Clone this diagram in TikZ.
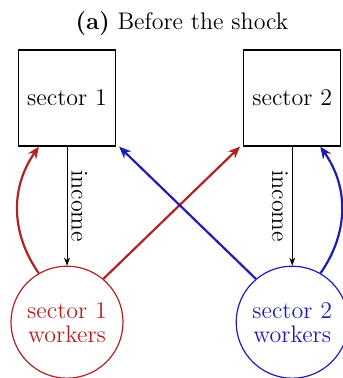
\documentclass[tikz,border=0pt]{standalone}
\usepackage{tikz}
\usetikzlibrary{arrows.meta}
\usetikzlibrary{positioning}

\definecolor{workred}{RGB}{178,34,34}
\definecolor{workblue}{RGB}{30,30,178}

\begin{document}
\begin{tikzpicture}[node distance=59.5pt and 63.5pt,
		sectorbox/.style={draw,semithick,rectangle,minimum width=48.5pt,minimum height=48pt,inner sep=0pt},
		workers/.style={draw,semithick,circle,minimum size=56pt,inner sep=0pt,align=center,font=\large},
		flow/.style={->,>={Stealth[length=6pt,width=5pt]},line width=1.1pt},
		incomeflow/.style={->,>={Stealth[length=4pt,width=3pt]},thin}]
		\useasboundingbox (0,0) rectangle (171pt,189pt);

		\node [sectorbox,font=\large] (s1) at (33.5pt,140pt) {sector 1};
		\node [sectorbox,font=\large,right=of s1] (s2) {sector 2};
		\node [workers,workred,below=of s1] (w1) {sector 1\\[-2pt]workers};
		\node [workers,workblue,below=of s2] (w2) {sector 2\\[-2pt]workers};

		\node [font=\large] (title) at (91pt,177pt) {\textbf{(a)} Before the shock};

		\draw [incomeflow] (s1) -- node [right,rotate=-90,anchor=south,font=\large,inner sep=2pt] {income} (w1);
		\draw [incomeflow] (s2) -- node [left,rotate=-90,anchor=north,font=\large,inner sep=2pt] {income} (w2);

		\draw [flow,workred] (w1.120) to [bend left=35] (s1.-120);
		\draw [flow,workred] (w1.50) -- ([xshift=-1.5pt]s2.south west);
		\draw [flow,workblue] (w2.130) -- ([xshift=1.5pt]s1.south east);
		\draw [flow,workblue] (w2.60) to [bend right=35] (s2.-60);
	\end{tikzpicture}
\end{document}
